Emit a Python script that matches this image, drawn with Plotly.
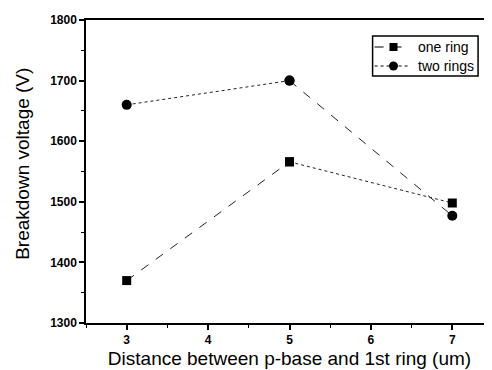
import plotly.graph_objects as go

distance = [3, 5, 7]
one_ring = [1370, 1566, 1498]
two_rings = [1660, 1700, 1477]
series_names = ["one ring", "two rings"]

# line style per segment (3->5, 5->7) as drawn in the reference
one_ring_dash = ["dash", "dot"]
two_rings_dash = ["dot", "dash"]

fig = go.Figure()

def add_series(ys, dashes, symbol, size):
    for i in range(len(distance) - 1):
        fig.add_trace(go.Scatter(
            x=distance[i:i + 2], y=ys[i:i + 2],
            mode="lines+markers", showlegend=False,
            line=dict(color="#222222", width=1, dash=dashes[i]),
            marker=dict(symbol=symbol, size=size, color="black"),
        ))

add_series(one_ring, one_ring_dash, "square", 9)
add_series(two_rings, two_rings_dash, "circle", 10)

# hand-drawn legend on an overlay axis measured in pixels of the plot area
legend_rows = [27, 46]
legend_dash = [one_ring_dash[0], two_rings_dash[0]]
legend_sym = [("square", 8), ("circle", 9)]
for row, dash, (sym, sz), name in zip(legend_rows, legend_dash, legend_sym, series_names):
    fig.add_trace(go.Scatter(
        x=[290, 326], y=[row, row], xaxis="x2", yaxis="y2",
        mode="lines", showlegend=False, hoverinfo="skip",
        line=dict(color="black", width=1.2, dash=dash),
    ))
    fig.add_trace(go.Scatter(
        x=[309], y=[row], xaxis="x2", yaxis="y2",
        mode="markers", showlegend=False, hoverinfo="skip",
        marker=dict(symbol=sym, size=sz, color="black"),
    ))
    fig.add_annotation(
        x=332, y=row, xref="x2", yref="y2", text=name, showarrow=False,
        xanchor="left", yanchor="middle",
        font=dict(family="Arial", size=14, color="black"),
    )
fig.add_shape(type="rect", xref="x2", yref="y2", x0=288, x1=394, y0=16, y1=56,
              line=dict(color="black", width=1.5), fillcolor="rgba(0,0,0,0)")

fig.add_annotation(
    x=-0.155, y=0.525, xref="paper", yref="paper", text="Breakdown voltage (V)",
    textangle=-90, showarrow=False, xanchor="center", yanchor="middle",
    font=dict(family="Arial", size=19, color="black"),
)

axis_common = dict(
    showline=True, linecolor="black", linewidth=1.5, mirror=True,
    ticks="outside", ticklen=5, tickwidth=1.5, tickcolor="black",
    showgrid=False, zeroline=False,
    tickfont=dict(family="Arial", size=12, color="black", weight="bold"),
    minor=dict(ticks="outside", ticklen=3, tickcolor="black", tickwidth=1),
)

fig.update_layout(
    xaxis=dict(
        range=[2.5, 7.5], tickvals=[3, 4, 5, 6, 7], minor_dtick=0.5,
        title=dict(text="Distance between p-base and 1st ring (um)",
                   font=dict(family="Arial", size=19, color="black"), standoff=6),
        **axis_common,
    ),
    yaxis=dict(
        range=[1300, 1800], tickvals=[1300, 1400, 1500, 1600, 1700, 1800], minor_dtick=50,
        **axis_common,
    ),
    xaxis2=dict(overlaying="x", range=[0, 409], visible=False, fixedrange=True),
    yaxis2=dict(overlaying="y", range=[303, 0], visible=False, fixedrange=True),
    width=492, height=370,
    margin=dict(l=78, r=5, t=12, b=55),
    paper_bgcolor="white", plot_bgcolor="white",
    showlegend=False,
)

fig.write_html("out.html")
